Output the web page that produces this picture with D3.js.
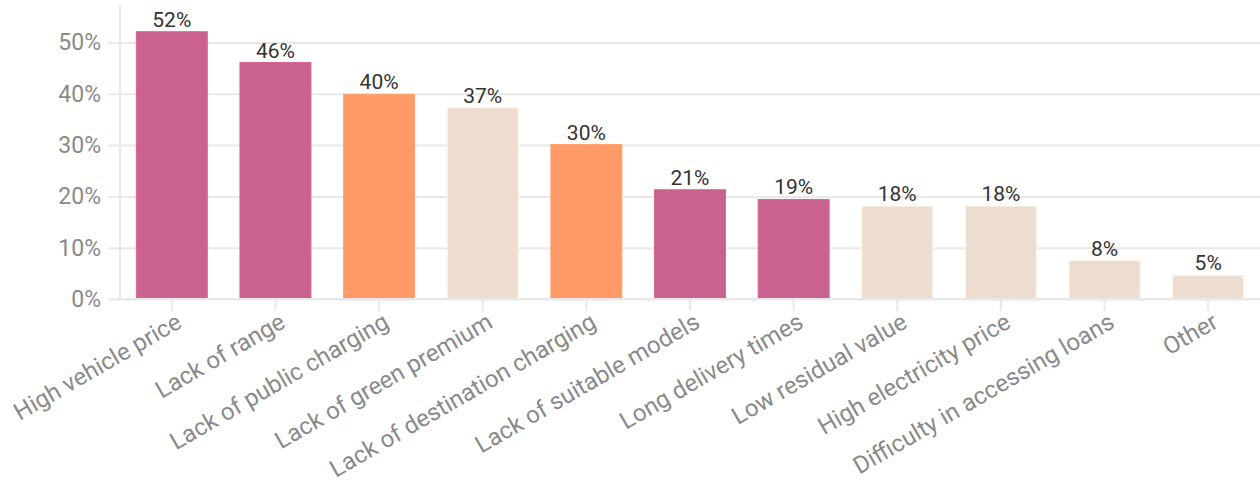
<!DOCTYPE html>
<html>
<head>
<meta charset="utf-8">
<script src="https://cdn.jsdelivr.net/npm/d3@7"></script>
<style>
  body { margin: 0; background: #fff; }
  text { font-family: Roboto, "Noto Sans", sans-serif; }
</style>
</head>
<body>
<div id="chart"></div>
<script>
// Barriers to EV adoption, share of respondents (%)
var categories = ["High vehicle price", "Lack of range", "Lack of public charging",
  "Lack of green premium", "Lack of destination charging", "Lack of suitable models",
  "Long delivery times", "Low residual value", "High electricity price",
  "Difficulty in accessing loans", "Other"];
var values = [52.1, 46.1, 39.9, 37.3, 30.1, 21.3, 19.4, 18.1, 18.1, 7.5, 4.6];
var groups = ["cost", "cost", "charging", "other", "charging", "cost",
  "cost", "other", "other", "other", "other"];
var yTicks = [0, 10, 20, 30, 40, 50];

var svgWidth = 1260;
var svgHeight = 482;

var margin = { top: 5, right: 0, bottom: 183, left: 120 };
var width = svgWidth - margin.left - margin.right;
var height = svgHeight - margin.top - margin.bottom;

var color = d3.scaleOrdinal()
  .domain(["cost", "charging", "other"])
  .range(["#c65a88", "#ff935f", "#ecdbce"]);

var svg = d3.select("#chart")
  .append("svg")
  .attr("width", svgWidth)
  .attr("height", svgHeight);

var chartGroup = svg.append("g")
  .attr("transform", `translate(${margin.left}, ${margin.top})`);

var xScale = d3.scaleBand()
  .domain(categories)
  .range([0, width])
  .paddingInner(0.315)
  .paddingOuter(0.1575);

var yScale = d3.scaleLinear()
  .domain([0, d3.max(values) * 1.1])
  .range([height, 0]);

// gridlines + y axis
var leftAxis = d3.axisLeft(yScale)
  .tickValues(yTicks)
  .tickSize(-width - 12)
  .tickPadding(7)
  .tickFormat(d => d + "%");

var yAxis = chartGroup.append("g")
  .attr("transform", "translate(-12,0)")
  .call(leftAxis);
yAxis.select(".domain").remove();
yAxis.selectAll(".tick line")
  .attr("stroke", "#e8e8e8")
  .attr("stroke-width", 2);
yAxis.selectAll(".tick text")
  .attr("fill", "#8a8a8a")
  .attr("font-size", 23);

// vertical axis line
chartGroup.append("line")
  .attr("x1", 0).attr("x2", 0)
  .attr("y1", 0).attr("y2", height)
  .attr("stroke", "#e8e8e8")
  .attr("stroke-width", 2);

// bars
chartGroup.selectAll("rect.bar")
  .data(values)
  .enter()
  .append("rect")
  .attr("class", "bar")
  .attr("x", (d, i) => xScale(categories[i]))
  .attr("y", d => yScale(d))
  .attr("width", xScale.bandwidth())
  .attr("height", d => height - yScale(d))
  .attr("fill", (d, i) => color(groups[i]))
  .attr("fill-opacity", 0.95)
  .attr("stroke", (d, i) => d3.color(color(groups[i])).brighter(0.3))
  .attr("stroke-width", 1);

// value labels
chartGroup.selectAll("text.val")
  .data(values)
  .enter()
  .append("text")
  .attr("class", "val")
  .attr("x", (d, i) => xScale(categories[i]) + xScale.bandwidth() / 2)
  .attr("y", d => yScale(d) - 5)
  .attr("text-anchor", "middle")
  .attr("font-size", 21)
  .attr("fill", "#333")
  .text(d => Math.round(d) + "%");

// x axis
var bottomAxis = d3.axisBottom(xScale)
  .tickSize(12)
  .tickPadding(6);

var xAxis = chartGroup.append("g")
  .attr("transform", `translate(0, ${height})`)
  .call(bottomAxis);
xAxis.select(".domain")
  .attr("stroke", "#e8e8e8")
  .attr("stroke-width", 2)
  .attr("d", `M0,0H${width}`);
xAxis.selectAll(".tick line")
  .attr("stroke", "#e8e8e8")
  .attr("stroke-width", 2);
xAxis.selectAll(".tick text")
  .attr("fill", "#8a8a8a")
  .attr("font-size", 24)
  .attr("text-anchor", "end")
  .attr("dy", "0.7em")
  .attr("transform", "translate(3,13) rotate(-30)")
  .attr("y", 0)
  .attr("x", 0);
</script>
</body>
</html>
